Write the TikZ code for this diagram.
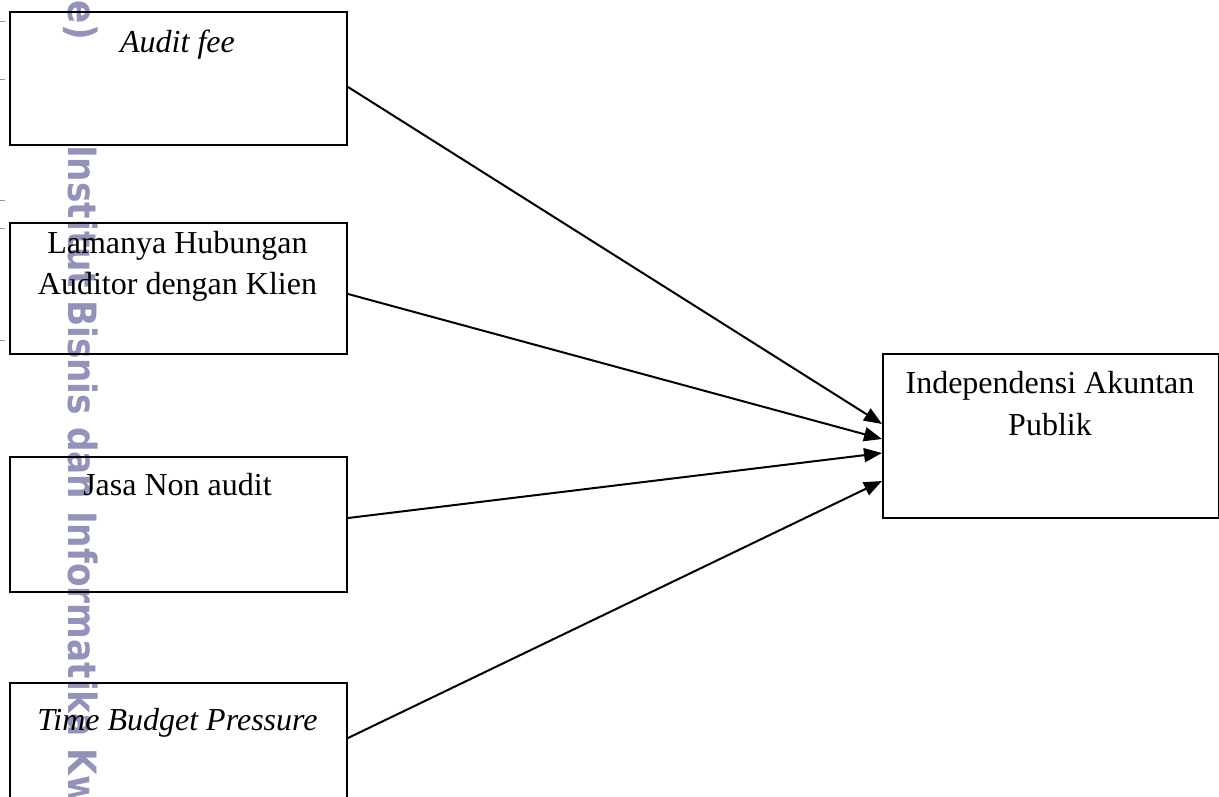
\documentclass[tikz,border=0pt]{standalone}
\usepackage{fontspec}
\setmainfont{Liberation Serif}
\newfontfamily\wmfont{DejaVu Sans Bold}[FakeStretch=0.88]
\usetikzlibrary{arrows.meta}
\definecolor{wm}{RGB}{146,146,186}
\definecolor{tick}{RGB}{150,150,150}
\begin{document}
\begin{tikzpicture}[x=1pt,y=-1pt,
  box/.style={draw,line width=2pt,anchor=north west,inner sep=0pt,minimum width=337pt},
  lbl/.style={font=\fontsize{32}{38}\selectfont,inner sep=0pt,anchor=base},
  wmtext/.style={font=\wmfont\fontsize{39}{41}\selectfont,text=wm,rotate=-90,inner sep=0pt},
  conn/.style={line width=2pt,-{Triangle[length=18pt,width=14pt]}}]
\useasboundingbox (0,0) rectangle (1219,796);
\clip (0,0) rectangle (1219,796);
% watermark
\node[wmtext,anchor=base east] (wm1) at (68,40) {Gie)};
\node[wmtext,anchor=base west] (wm2) at (68,145) {Institut Bisnis dan Informatika Kwik Kian Gie)};
% edge ticks
\foreach \ty in {21,79,200,228,340}
  \draw[tick,line width=0.8pt] (0,\ty) -- (5,\ty);
% boxes
\node[box,minimum height=133pt] (b1) at (9,11) {};
\node[box,minimum height=131pt] (b2) at (9,222) {};
\node[box,minimum height=135pt] (b3) at (9,456) {};
\node[box,minimum height=140pt] (b4) at (9,682) {};
\node[box,minimum width=336pt,minimum height=164pt] (b5) at (882,353) {};
% labels
\node[lbl] (t1) at (177.5,52) {\itshape Audit fee};
\node[lbl] (t2a) at (177.5,253) {Lamanya Hubungan};
\node[lbl] (t2b) at (177.5,294) {Auditor dengan Klien};
\node[lbl] (t3) at (177.5,495) {Jasa Non audit};
\node[lbl] (t4) at (177.5,730) {\itshape Time Budget Pressure};
\node[lbl] (t5a) at (1050,393) {Independensi Akuntan};
\node[lbl] (t5b) at (1050,435) {Publik};
% connectors
\draw[conn] ([yshift=-8.5pt]b1.east) -- ([yshift=12pt]b5.west);
\draw[conn] ([yshift=-5.5pt]b2.east) -- ([yshift=-3pt]b5.west);
\draw[conn] ([yshift=6.5pt]b3.east) -- ([yshift=-17pt]b5.west);
\draw[conn] ([yshift=15pt]b4.east) -- ([yshift=-45pt]b5.west);
\end{tikzpicture}
\end{document}
